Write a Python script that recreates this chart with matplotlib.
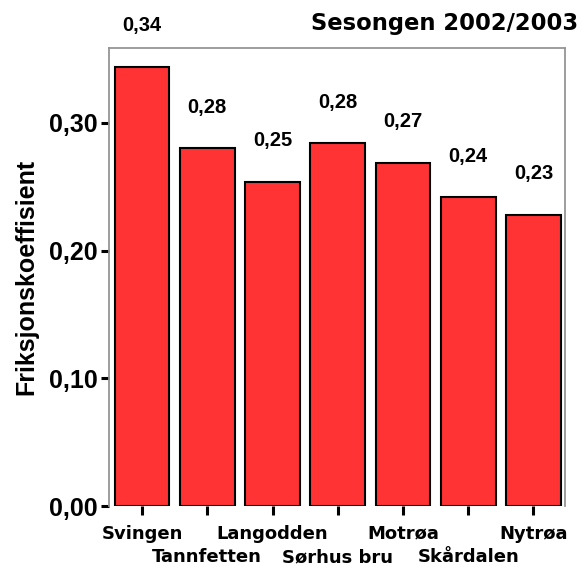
import matplotlib
matplotlib.use("Agg")
import matplotlib.pyplot as plt

# Friction coefficient per site, season 2002/2003
sites = ["Svingen", "Tannfetten", "Langodden", "Sørhus bru", "Motrøa", "Skårdalen", "Nytrøa"]
friction = [0.344, 0.280, 0.254, 0.284, 0.269, 0.242, 0.228]
y_ticks = [0.0, 0.1, 0.2, 0.3]
y_tick_labels = ["0,00", "0,10", "0,20", "0,30"]

W, H = 582, 567
fig = plt.figure(figsize=(W / 100, H / 100), dpi=100)
ax = fig.add_axes([109 / W, 61 / H, 456 / W, 458 / H])

num_font = "Liberation Sans"
cat_font = "DejaVu Sans"

x = list(range(len(sites)))
ax.bar(x, friction, width=0.84, color="#FF3333", edgecolor="black", linewidth=1.5, zorder=2)

ax.set_xlim(-0.506, len(sites) - 1 + 0.483)
ax.set_ylim(0, 0.3587)

# value labels above each bar
for xi, v in zip(x, friction):
    ax.annotate(f"{v:.2f}".replace(".", ","), xy=(xi, v), xytext=(0, 29.5),
                textcoords="offset points", ha="center", va="center",
                fontsize=14.5, fontweight="bold", family=num_font,
                annotation_clip=False)

# y axis
ax.set_yticks(y_ticks)
ax.set_yticklabels(y_tick_labels, fontsize=18, fontweight="bold", family=num_font)
ax.tick_params(axis="y", length=5.8, width=2.2, pad=2.2, color="black")
ax.set_ylabel("Friksjonskoeffisient", fontsize=18, fontweight="bold", family=num_font,
              va="baseline")
ax.yaxis.set_label_coords(-0.1667, 0.5)

# x axis: staggered category labels (even on the first row, odd on the second)
ax.set_xticks(x[0::2])
ax.set_xticklabels(sites[0::2], fontsize=13, fontweight="bold", family=cat_font)
ax.set_xticks(x[1::2], minor=True)
ax.set_xticklabels(sites[1::2], minor=True, fontsize=13, fontweight="bold", family=cat_font)
ax.tick_params(axis="x", which="major", length=6.5, width=2.2, pad=7, color="black")
ax.tick_params(axis="x", which="minor", length=6.5, width=2.2, pad=24, color="black")

for side in ("left", "top", "right"):
    ax.spines[side].set_color("#959595")
    ax.spines[side].set_linewidth(1.3)
ax.spines["bottom"].set_visible(False)

fig.text(578 / W, (H - 30) / H, "Sesongen 2002/2003", ha="right", va="baseline",
         fontsize=16.3, fontweight="bold", family=cat_font)

fig.savefig("out.png", dpi=100, facecolor="white")
